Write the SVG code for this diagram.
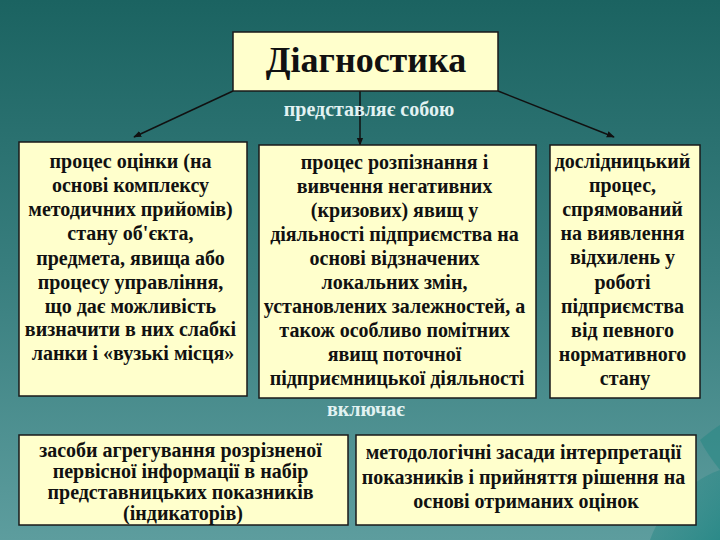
<svg xmlns="http://www.w3.org/2000/svg" width="720" height="540" viewBox="0 0 720 540">
<defs>
<linearGradient id="bg" x1="0" y1="0" x2="0" y2="1">
<stop offset="0" stop-color="#1b6361"/>
<stop offset="0.5" stop-color="#387e7e"/>
<stop offset="1" stop-color="#5d9d9e"/>
</linearGradient>
<linearGradient id="sw" x1="0" y1="0" x2="1" y2="1">
<stop offset="0" stop-color="#2f8a88" stop-opacity="0.2"/>
<stop offset="1" stop-color="#1f8583" stop-opacity="0.8"/>
</linearGradient>
<marker id="ah" viewBox="0 0 10 10" refX="9" refY="5" markerWidth="8" markerHeight="8" orient="auto" markerUnits="userSpaceOnUse">
<path d="M0,1 L10,5 L0,9 z" fill="#111"/>
</marker>
<style>
.box{fill:#ffffcc;stroke:#1a1a1a;stroke-width:1.5}
text{font-family:'Liberation Serif','Times New Roman',serif}
.t{font-weight:bold;fill:#111;text-anchor:middle}
.m{font-size:20px}
.lbl{font-weight:bold;font-size:20px;fill:#e2f2f2;text-anchor:middle}
.c{stroke:#111;stroke-width:1.5;fill:none;marker-end:url(#ah)}
</style>
</defs>
<rect width="720" height="540" fill="url(#bg)"/>
<path d="M720,470 C690,480 660,510 650,540 L720,540 z" fill="url(#sw)"/>
<path d="M700,440 C712,430 720,425 720,425 L720,470 C712,460 705,450 700,440 z" fill="#2a8886" opacity="0.6"/>

<g id="connectors">
<line class="c" x1="233" y1="91" x2="134" y2="137"/>
<line class="c" x1="360" y1="91" x2="360" y2="145"/>
<line class="c" x1="498" y1="91" x2="614" y2="137"/>
</g>

<g id="top">
<rect class="box" x="233" y="32" width="265" height="59"/>
<text class="t" x="366" y="72" font-size="36" font-family="Liberation Serif, serif">Діагностика</text>
</g>

<text class="lbl" x="369" y="116" font-family="Liberation Serif, serif">представляє собою</text>

<g id="left">
<rect class="box" x="19" y="142" width="228" height="254"/>
<text class="t m" x="133" font-family="Liberation Serif, serif">
<tspan x="133" y="168">процес оцінки (на</tspan>
<tspan x="133" y="192">основі комплексу</tspan>
<tspan x="133" y="216">методичних прийомів)</tspan>
<tspan x="133" y="240">стану об'єкта,</tspan>
<tspan x="133" y="265">предмета, явища або</tspan>
<tspan x="133" y="289">процесу управління,</tspan>
<tspan x="133" y="313">що дає можливість</tspan>
<tspan x="133" y="336">визначити в них слабкі</tspan>
<tspan x="133" y="360">ланки і «вузькі місця»</tspan>
</text>
</g>

<g id="middle">
<rect class="box" x="259" y="145" width="277" height="253"/>
<text class="t m" x="397" font-family="Liberation Serif, serif">
<tspan x="397" y="169">процес розпізнання і</tspan>
<tspan x="397" y="193">вивчення негативних</tspan>
<tspan x="397" y="217">(кризових) явищ у</tspan>
<tspan x="397" y="241">діяльності підприємства на</tspan>
<tspan x="397" y="265">основі відзначених</tspan>
<tspan x="397" y="289">локальних змін,</tspan>
<tspan x="397" y="313">установлених залежностей, а</tspan>
<tspan x="397" y="337">також особливо помітних</tspan>
<tspan x="397" y="361">явищ поточної</tspan>
<tspan x="397" y="385">підприємницької діяльності</tspan>
</text>
</g>

<g id="right">
<rect class="box" x="550" y="145" width="150" height="253"/>
<text class="t m" x="625" font-family="Liberation Serif, serif">
<tspan x="625" y="168">дослідницький</tspan>
<tspan x="625" y="192">процес,</tspan>
<tspan x="625" y="216">спрямований</tspan>
<tspan x="625" y="240">на виявлення</tspan>
<tspan x="625" y="264">відхилень у</tspan>
<tspan x="625" y="289">роботі</tspan>
<tspan x="625" y="313">підприємства</tspan>
<tspan x="625" y="337">від певного</tspan>
<tspan x="625" y="361">нормативного</tspan>
<tspan x="625" y="385">стану</tspan>
</text>
</g>

<text class="lbl" x="366" y="416" font-family="Liberation Serif, serif">включає</text>

<g id="bottom-left">
<rect class="box" x="19" y="435" width="329" height="90"/>
<text class="t m" x="183" font-family="Liberation Serif, serif">
<tspan x="183" y="457">засоби агрегування розрізненої</tspan>
<tspan x="183" y="478">первісної інформації в набір</tspan>
<tspan x="183" y="499">представницьких показників</tspan>
<tspan x="183" y="520">(індикаторів)</tspan>
</text>
</g>

<g id="bottom-right">
<rect class="box" x="356" y="435" width="340" height="90"/>
<text class="t m" x="526" font-family="Liberation Serif, serif">
<tspan x="526" y="459">методологічні засади інтерпретації</tspan>
<tspan x="526" y="484">показників і прийняття рішення на</tspan>
<tspan x="526" y="508">основі отриманих оцінок</tspan>
</text>
</g>
</svg>
